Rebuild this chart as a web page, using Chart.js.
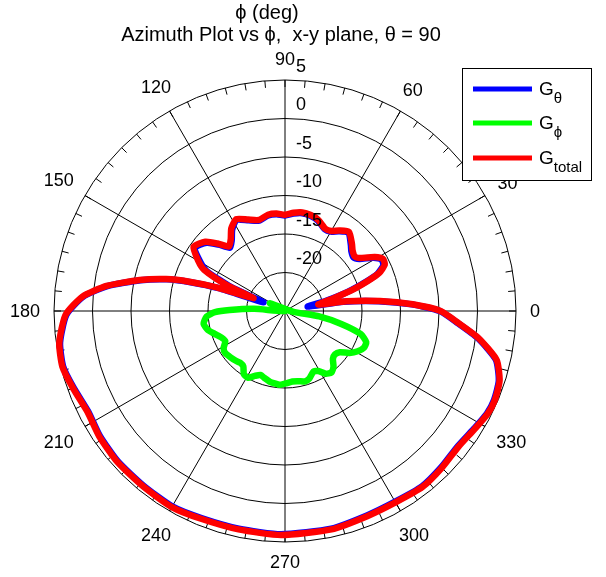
<!DOCTYPE html>
<html>
<head>
<meta charset="utf-8">
<script src="https://cdn.jsdelivr.net/npm/chart.js@4.4.0/dist/chart.umd.min.js"></script>
<style>
  body { margin: 0; background: #fff; }
  #wrap { position: relative; width: 606px; height: 577px; }
</style>
</head>
<body>
<div id="wrap"><canvas id="azimuth" width="606" height="577"></canvas></div>
<script>
// azimuth angle phi (deg) and gain (dB)
const totalPhi = [0, 3, 6, 9, 11, 14, 17, 20, 22, 25, 28, 31, 35, 38, 42, 45, 51, 56, 60, 64,
    70, 75, 80, 85, 90, 95, 100, 106, 112, 118, 123, 127, 131, 135, 139, 145, 150, 153, 156, 158,
    161, 163, 165, 168, 172, 176, 181, 188, 194, 200, 207, 214, 222, 231, 240, 248, 258, 269, 282, 292,
    300, 308, 315, 322, 328, 333, 337, 342, 347, 352, 356];
const gTotal = [-4.8, -8.4, -12.6, -16.9, -20.6, -19.0, -16.2, -13.5, -11.8, -10.7,
    -10.6, -11.4, -13.0, -13.5, -13.2, -12.7, -11.8, -12.4, -13.0, -13.1,
    -12.4, -12.1, -12.0, -12.2, -12.5, -12.3, -12.3, -12.7, -12.2, -11.5,
    -12.2, -13.3, -13.9, -12.6, -11.3, -10.5, -12.0, -13.2, -16.7, -20.6,
    -15.6, -12.0, -9.0, -5.7, -1.6, 1.4, 3.5, 4.6, 4.8, 4.3,
    3.8, 4.1, 4.3, 4.3, 4.4, 4.1, 4.0, 4.1, 4.0, 3.7,
    3.7, 4.0, 3.8, 3.6, 4.0, 4.5, 4.6, 4.3, 3.2, 0.4,
    -2.4];
const gTheta = [-4.9, -8.5, -12.8, -17.3, -22.0, -19.5, -16.5, -13.7, -12.0, -10.9,
    -10.8, -11.6, -13.2, -13.7, -13.4, -12.9, -11.9, -12.5, -13.1, -13.2,
    -12.5, -12.2, -12.1, -12.3, -12.6, -12.4, -12.4, -12.8, -12.3, -11.6,
    -12.4, -13.5, -14.1, -12.8, -11.5, -10.7, -12.3, -13.6, -17.3, -22.0,
    -15.9, -12.2, -9.1, -5.8, -1.7, 1.3, 3.4, 4.5, 4.7, 4.2,
    3.7, 4.0, 4.2, 4.2, 4.3, 4.0, 3.9, 4.0, 3.9, 3.6,
    3.6, 3.9, 3.7, 3.5, 3.9, 4.4, 4.5, 4.2, 3.1, 0.3,
    -2.5];
const phiPhi = [153, 162, 176, 179, 181, 184, 189, 194, 198, 203, 207, 211, 215, 220, 225, 229,
    233, 237, 241, 245, 249, 253, 258, 262, 266, 271, 276, 281, 286, 290, 295, 299,
    303, 307, 311, 315, 319, 323, 327, 331, 335, 339, 343, 347, 351, 356];
const gPhi = [-22.8, -25.0, -21.0, -17.8, -15.9, -14.8, -14.3, -14.7, -15.4, -16.1, -16.3, -15.7, -15.5, -15.7, -15.9, -16.1,
    -16.0, -15.2, -15.1, -15.7, -16.1, -15.9, -15.6, -15.5, -15.4, -15.6, -15.8, -15.7, -15.5, -15.7, -16.3, -16.1,
    -15.3, -15.0, -15.4, -16.2, -16.4, -16.1, -15.0, -14.2, -13.7, -13.7, -14.7, -17.5, -20.5, -24.0];

const angleTicks = [0, 30, 60, 90, 120, 150, 180, 210, 240, 270, 300, 330];
const ringTicks = [5, 0, -5, -10, -15, -20];
const rMin = -25;
const rMax = 5;
const minorStep = 5;

const FONT = '"Liberation Sans", Arial, Helvetica, sans-serif';

// radar goes clockwise from the right, phi goes counter-clockwise
const phiLabels = [];
for (let i = 0; i < 360; i++) phiLabels.push((360 - i) % 360);
const idxOf = phi => (360 - phi) % 360;

function toRadar(angles, values) {
    const out = new Array(360).fill(null);
    angles.forEach((a, k) => { out[idxOf(a)] = values[k]; });
    return out;
}

const polarDecor = {
    id: 'polarDecor',
    beforeDatasetsDraw(chart) {
        const r = chart.scales.r;
        const ctx = chart.ctx;
        const outer = r.getDistanceFromCenterForValue(rMax);
        ctx.save();
        ctx.strokeStyle = '#000';
        ctx.lineWidth = 1;
        ctx.beginPath();
        for (let phi = 0; phi < 360; phi += minorStep) {
            const a = r.getPointPosition(idxOf(phi), outer);
            const b = r.getPointPosition(idxOf(phi), outer - 7);
            ctx.moveTo(a.x, a.y);
            ctx.lineTo(b.x, b.y);
        }
        ctx.stroke();
        ctx.restore();
    },
    afterDraw(chart) {
        const r = chart.scales.r;
        const ctx = chart.ctx;
        const outer = r.getDistanceFromCenterForValue(rMax);
        ctx.save();
        ctx.fillStyle = '#000';

        // angle labels
        ctx.font = '18px ' + FONT;
        ctx.textAlign = 'center';
        ctx.textBaseline = 'middle';
        angleTicks.forEach(phi => {
            const txt = String(phi);
            const w = ctx.measureText(txt).width;
            const rad = phi * Math.PI / 180;
            const d = outer + 14 + (w / 2) * Math.abs(Math.cos(rad)) + 6.5 * Math.abs(Math.sin(rad));
            const p = r.getPointPosition(idxOf(phi), d);
            ctx.fillText(txt, p.x, p.y + 1);
        });

        // ring labels
        ctx.textAlign = 'left';
        ringTicks.forEach(v => {
            const d = r.getDistanceFromCenterForValue(v) + 14;
            ctx.fillText(String(v), r.xCenter + 11, r.yCenter - d + 1);
        });

        // titles
        ctx.textAlign = 'center';
        ctx.textBaseline = 'alphabetic';
        ctx.font = '20px ' + FONT;
        ctx.fillText('\u03D5 (deg)', 267, 19);
        ctx.fillText('Azimuth Plot vs \u03D5,  x-y plane, \u03B8 = 90', 281, 41);

        // legend
        const items = [
            { color: '#0000ff', sub: '\u03B8', y: 89 },
            { color: '#00ff00', sub: '\u03D5', y: 123 },
            { color: '#ff0000', sub: 'total', y: 158 },
        ];
        ctx.fillStyle = '#fff';
        ctx.fillRect(462, 68, 130, 113);
        ctx.strokeStyle = '#000';
        ctx.lineWidth = 1;
        ctx.strokeRect(462.5, 68.5, 129, 112);
        items.forEach(it => {
            ctx.strokeStyle = it.color;
            ctx.lineWidth = 5;
            ctx.beginPath();
            ctx.moveTo(473, it.y);
            ctx.lineTo(532, it.y);
            ctx.stroke();
            ctx.fillStyle = '#000';
            ctx.textAlign = 'left';
            ctx.font = '19px ' + FONT;
            ctx.fillText('G', 539, it.y + 6);
            const gw = ctx.measureText('G').width;
            ctx.font = '15px ' + FONT;
            ctx.fillText(it.sub, 539 + gw, it.y + 14);
        });
        ctx.restore();
    }
};

const lineStyle = {
    pointRadius: 0,
    borderWidth: 6.5,
    tension: 0.2,
    spanGaps: true,
    fill: false,
    borderJoinStyle: 'round',
};

new Chart(document.getElementById('azimuth'), {
    type: 'radar',
    data: {
        labels: phiLabels,
        datasets: [
            { label: 'G_theta', data: toRadar(totalPhi, gTheta), borderColor: '#0000ff', order: 2, ...lineStyle },
            { label: 'G_phi', data: toRadar(phiPhi, gPhi), borderColor: '#00ff00', order: 1, ...lineStyle },
            { label: 'G_total', data: toRadar(totalPhi, gTotal), borderColor: '#ff0000', order: 0, ...lineStyle },
        ],
    },
    options: {
        responsive: false,
        animation: false,
        layout: { padding: { left: 54, right: 90, top: 80, bottom: 35 } },
        plugins: {
            legend: { display: false },
            tooltip: { enabled: false },
        },
        scales: {
            r: {
                min: rMin,
                max: rMax,
                startAngle: 90,
                ticks: { stepSize: 5, display: false },
                grid: { circular: true, color: '#000', lineWidth: 1 },
                angleLines: {
                    color: '#000',
                    lineWidth: c => (c.index % 30 === 0 ? 1 : 0),
                },
                pointLabels: { display: false },
            },
        },
    },
    plugins: [polarDecor],
});
</script>
</body>
</html>
